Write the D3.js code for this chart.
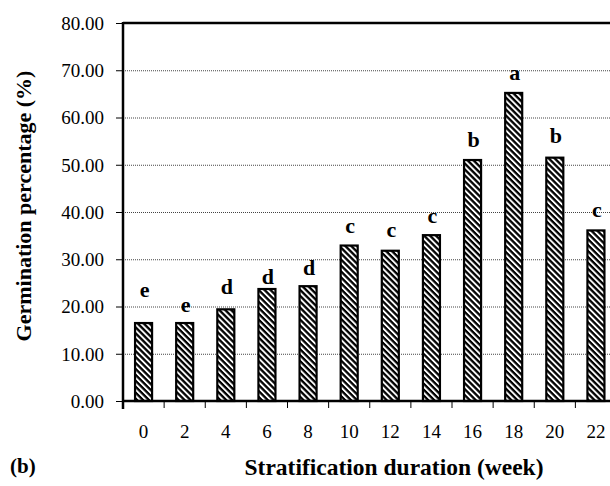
<!DOCTYPE html>
<html>
<head>
<meta charset="utf-8">
<script src="https://cdn.jsdelivr.net/npm/d3@7"></script>
<style>
  body { margin: 0; background: #fff; }
  svg { display: block; font-family: "Liberation Serif", "Times New Roman", serif; }
</style>
</head>
<body>
<div id="chart"></div>
<script>
// weeks of stratification
var weeks = ["0", "2", "4", "6", "8", "10", "12", "14", "16", "18", "20", "22"];
// germination percentage (%)
var germination = [16.5, 16.5, 19.4, 23.7, 24.3, 32.9, 31.8, 35.1, 51.0, 65.2, 51.5, 36.1];
// significance letters and the height (in %) where each one sits
var letters = ["e", "e", "d", "d", "d", "c", "c", "c", "b", "a", "b", "c"];
var letterAt = [22.1, 18.9, 22.6, 24.8, 26.7, 35.6, 34.8, 37.7, 53.8, 67.9, 54.6, 39.0];
var yTicks = [0, 10, 20, 30, 40, 50, 60, 70, 80];

var W = 610, H = 486;
var margin = { top: 23, left: 123, bottom: 85 };

var svg = d3.select("#chart").append("svg")
    .attr("width", W)
    .attr("height", H);

// hatch fill for the bars
var pat = svg.append("defs").append("pattern")
    .attr("id", "hatch")
    .attr("patternUnits", "userSpaceOnUse")
    .attr("width", 4.2)
    .attr("height", 4.2)
    .attr("patternTransform", "rotate(45)");
pat.append("rect").attr("width", 4.2).attr("height", 4.2).attr("fill", "#fff");
pat.append("rect").attr("width", 4.2).attr("height", 2.3).attr("fill", "#000");

// plot runs past the right edge like in the original crop
var x = d3.scaleBand()
    .domain(weeks)
    .range([margin.left, 616.5])
    .paddingInner(0.586)
    .paddingOuter(0.293);

var y = d3.scaleLinear()
    .domain([0, 80])
    .range([H - margin.bottom, margin.top]);

var step = x.step();
var half = step * x.paddingInner() / 2;

// dotted grid
svg.append("g")
    .selectAll("line")
    .data(yTicks.filter(function (d) { return d > 0 && d < 80; }))
    .enter()
    .append("line")
    .attr("x1", margin.left)
    .attr("x2", W)
    .attr("y1", function (d) { return y(d) + 0.5; })
    .attr("y2", function (d) { return y(d) + 0.5; })
    .attr("stroke", "#444")
    .attr("stroke-width", 1)
    .attr("stroke-dasharray", "1,1");

// top border
svg.append("line")
    .attr("x1", margin.left).attr("x2", W)
    .attr("y1", y(80)).attr("y2", y(80))
    .attr("stroke", "#000").attr("stroke-width", 2.5);

// bars
svg.append("g")
    .selectAll("rect")
    .data(germination)
    .enter()
    .append("rect")
    .attr("x", function (d, i) { return x(weeks[i]); })
    .attr("y", function (d) { return y(d); })
    .attr("width", x.bandwidth())
    .attr("height", function (d) { return y(0) - y(d); })
    .attr("fill", "url(#hatch)")
    .attr("stroke", "#000")
    .attr("stroke-width", 2.2);

// y axis
var yAxis = svg.append("g")
    .attr("transform", "translate(" + margin.left + ",0)")
    .call(d3.axisLeft(y).tickValues(yTicks).tickSize(7).tickPadding(12)
        .tickFormat(d3.format(".2f")));
yAxis.select(".domain").remove();
yAxis.selectAll(".tick line").attr("stroke", "#000").attr("stroke-width", 1);
yAxis.selectAll("text")
    .style("font-size", "19px")
    .style("font-family", "Liberation Serif")
    .attr("fill", "#000")
    .attr("dy", "0.33em");

svg.append("line")
    .attr("x1", margin.left).attr("x2", margin.left)
    .attr("y1", y(80) - 1).attr("y2", y(0) + 8)
    .attr("stroke", "#000").attr("stroke-width", 2.5);

// x axis
svg.append("line")
    .attr("x1", margin.left).attr("x2", W)
    .attr("y1", y(0)).attr("y2", y(0))
    .attr("stroke", "#000").attr("stroke-width", 2.5);

svg.append("g")
    .selectAll("line")
    .data(weeks)
    .enter()
    .append("line")
    .attr("x1", function (d) { return x(d) - half; })
    .attr("x2", function (d) { return x(d) - half; })
    .attr("y1", y(0))
    .attr("y2", y(0) + 7)
    .attr("stroke", "#000")
    .attr("stroke-width", 1);

svg.append("g")
    .selectAll("text")
    .data(weeks)
    .enter()
    .append("text")
    .attr("x", function (d) { return x(d) + x.bandwidth() / 2; })
    .attr("y", y(0) + 37)
    .attr("text-anchor", "middle")
    .style("font-size", "19px")
    .text(function (d) { return d; });

// letters over bars
svg.append("g")
    .selectAll("text")
    .data(letters)
    .enter()
    .append("text")
    .attr("x", function (d, i) { return x(weeks[i]) + x.bandwidth() / 2 + 1; })
    .attr("y", function (d, i) { return y(letterAt[i]); })
    .attr("text-anchor", "middle")
    .style("font-size", "22px")
    .style("font-weight", "bold")
    .text(function (d) { return d; });

// titles
svg.append("text")
    .attr("transform", "translate(31,206) rotate(-90)")
    .attr("text-anchor", "middle")
    .style("font-size", "22px")
    .style("font-weight", "bold")
    .text("Germination percentage (%)");

svg.append("text")
    .attr("x", 394)
    .attr("y", 475)
    .attr("text-anchor", "middle")
    .style("font-size", "23.5px")
    .style("font-weight", "bold")
    .text("Stratification duration (week)");

svg.append("text")
    .attr("x", 10)
    .attr("y", 473)
    .style("font-size", "21px")
    .style("font-weight", "bold")
    .text("(b)");
</script>
</body>
</html>
